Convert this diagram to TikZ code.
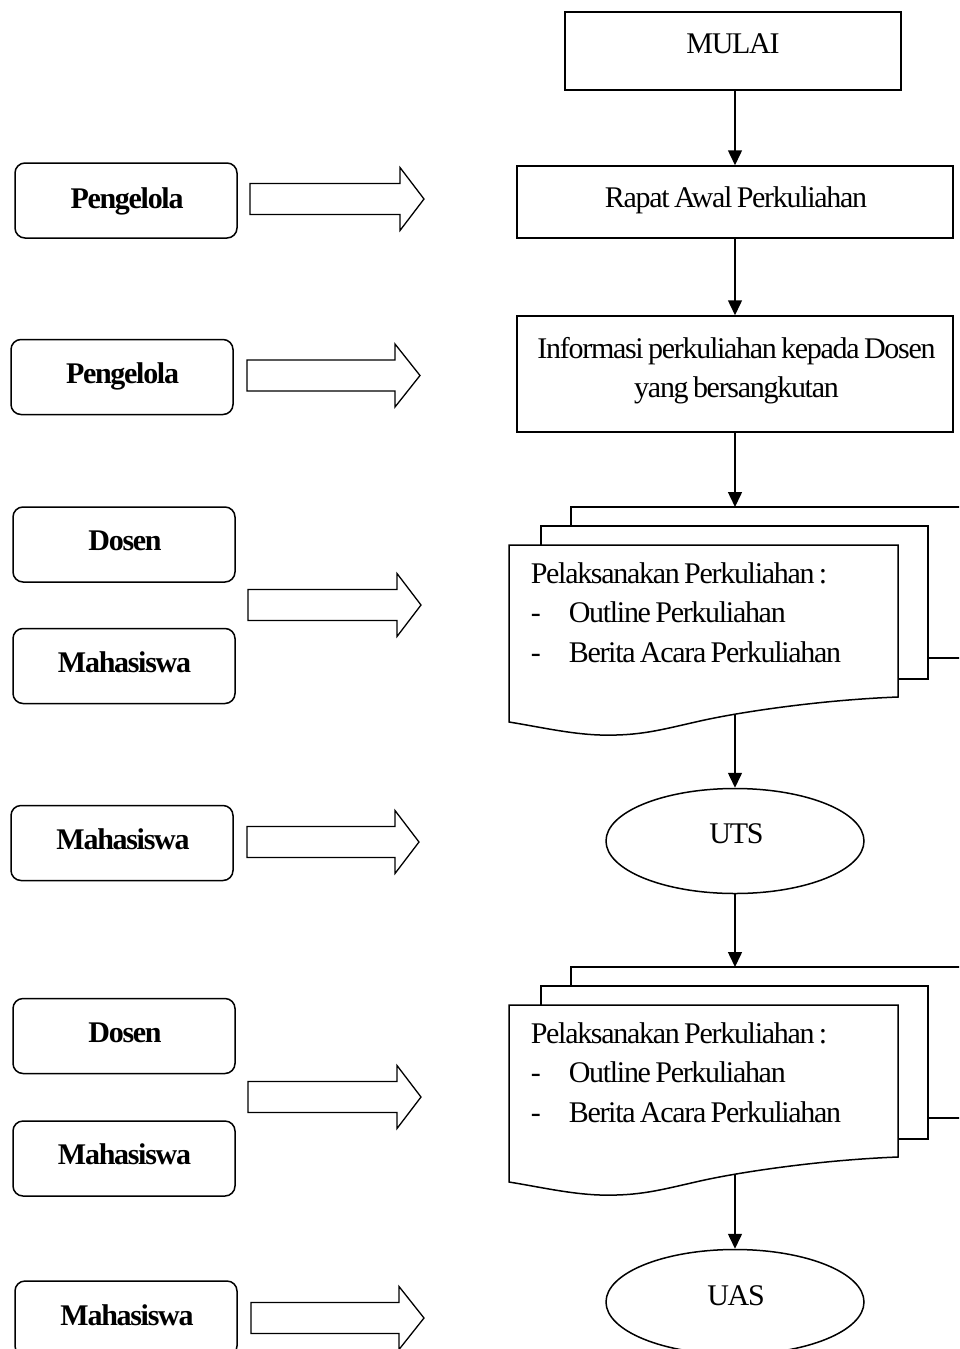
\documentclass[tikz,border=0pt]{standalone}
\usepackage{fontspec}
\setmainfont{Liberation Serif}
\newfontfamily\flowfont{Liberation Serif}[LetterSpace=-4.3,WordSpace=0.7]
\usetikzlibrary{arrows.meta,shapes.geometric}
\begin{document}
\begin{tikzpicture}[x=1pt,y=-1pt,line width=1.5pt,
  box/.style={draw,rectangle,inner sep=0pt},
  rbox/.style={draw,rectangle,rounded corners=10pt,minimum width=222pt,minimum height=75pt,inner sep=0pt},
  oval/.style={draw,ellipse,minimum width=258pt,minimum height=105pt,inner sep=0pt},
  txt/.style={anchor=base,inner sep=0pt,font=\flowfont\fontsize{30}{39.5}\selectfont},
  ltxt/.style={txt,anchor=base west},
  btxt/.style={anchor=base,inner sep=0pt,font=\flowfont\fontsize{30}{36}\selectfont\bfseries},
  flow/.style={-{Triangle[length=15pt,width=14pt]}},
  barrow/.style={draw,line width=1.3pt,fill=white,line join=miter},
  page/.style={draw,fill=white}
]
\useasboundingbox (0,0) rectangle (959,1349);
\clip (0,0) rectangle (959,1349);

% ---------- main column ----------
\node[box,minimum width=336pt,minimum height=78pt] (mulai) at (733,51) {};
\node[txt] (tmulai) at (733,53) {MULAI};

\node[box,minimum width=436pt,minimum height=72pt] (rapat) at (735,202) {};
\node[txt] (trapat) at (736,207) {Rapat Awal Perkuliahan};

\node[box,minimum width=436pt,minimum height=116pt] (info) at (735,374) {};
\node[txt] (tinfo1) at (736.5,358) {Informasi perkuliahan kepada Dosen};
\node[txt] (tinfo2) at (736.5,397) {yang bersangkutan};

% multi-document 1
\draw[page] (571,507) rectangle (1000,658);
\draw[page] (541,526) rectangle (928,679);
\draw[page] (509,545) -- (898,545) -- (898,697)
  .. controls (820,700) and (740,712) .. (700,721)
  .. controls (660,730) and (640,736) .. (600,735)
  .. controls (570,734) and (540,727) .. (509,722) -- cycle;
\coordinate (d1top) at (735,507);
\coordinate (d1bot) at (735,714);
\node[ltxt] (d1a) at (530,583) {Pelaksanakan Perkuliahan :};
\node[ltxt] (d1b) at (530,622) {-};
\node[ltxt] (d1c) at (568,622) {Outline Perkuliahan};
\node[ltxt] (d1d) at (530,662) {-};
\node[ltxt] (d1e) at (568,662) {Berita Acara Perkuliahan};

\node[oval] (uts) at (735,841) {};
\node[txt] (tuts) at (736.5,843) {UTS};

% multi-document 2
\begin{scope}[shift={(0,460)}]
\draw[page] (571,507) rectangle (1000,658);
\draw[page] (541,526) rectangle (928,679);
\draw[page] (509,545) -- (898,545) -- (898,697)
  .. controls (820,700) and (740,712) .. (700,721)
  .. controls (660,730) and (640,736) .. (600,735)
  .. controls (570,734) and (540,727) .. (509,722) -- cycle;
\coordinate (d2top) at (735,507);
\coordinate (d2bot) at (735,714);
\node[ltxt] (d2a) at (530,583) {Pelaksanakan Perkuliahan :};
\node[ltxt] (d2b) at (530,622) {-};
\node[ltxt] (d2c) at (568,622) {Outline Perkuliahan};
\node[ltxt] (d2d) at (530,662) {-};
\node[ltxt] (d2e) at (568,662) {Berita Acara Perkuliahan};
\end{scope}

\node[oval] (uas) at (735,1302) {};
\node[txt] (tuas) at (736,1305) {UAS};

% flow arrows
\draw[flow] (rapat.north |- mulai.south) -- (rapat.north);
\draw[flow] (rapat.south) -- (info.north);
\draw[flow] (info.south) -- (d1top);
\draw[flow] (d1bot) -- (uts.north);
\draw[flow] (uts.south) -- (d2top);
\draw[flow] (d2bot) -- (uas.north);

% ---------- left column ----------
\node[rbox] (p1) at (126,200.5) {};
\node[btxt] (tp1) at (127,208) {Pengelola};
\node[rbox] (p2) at (122,377) {};
\node[btxt] (tp2) at (122.5,383) {Pengelola};
\node[rbox] (ds1) at (124,544.5) {};
\node[btxt] (tds1) at (125,550) {Dosen};
\node[rbox] (m1) at (124,666) {};
\node[btxt] (tm1) at (124.5,672) {Mahasiswa};
\node[rbox] (m2) at (122,843) {};
\node[btxt] (tm2) at (123,849) {Mahasiswa};
\node[rbox] (ds2) at (124,1036) {};
\node[btxt] (tds2) at (125,1042) {Dosen};
\node[rbox] (m3) at (124,1158.5) {};
\node[btxt] (tm3) at (124.5,1164) {Mahasiswa};
\node[rbox] (m4) at (126,1318.5) {};
\node[btxt] (tm4) at (127,1325) {Mahasiswa};

% block arrows
\foreach \xa/\cy/\xb/\xt in {250/199/400/424, 247/375.5/395/420, 248/605/397/421,
                              247/842/395/419, 248/1097/397/421, 251/1318/399/424}{
  \draw[barrow] (\xa,\cy-15.5) -- (\xb,\cy-15.5) -- (\xb,\cy-31.5) -- (\xt,\cy)
    -- (\xb,\cy+31.5) -- (\xb,\cy+15.5) -- (\xa,\cy+15.5) -- cycle;
}
\end{tikzpicture}
\end{document}
